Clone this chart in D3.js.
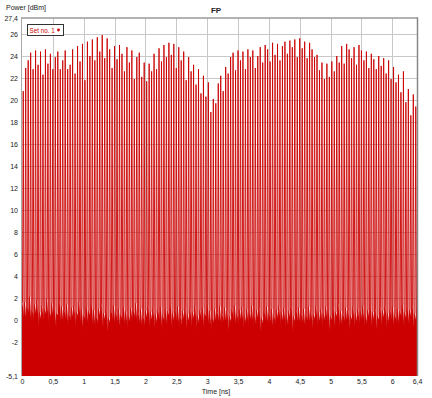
<!DOCTYPE html>
<html><head><meta charset="utf-8">
<script src="https://cdn.jsdelivr.net/npm/d3@7"></script>
<style>
html,body{margin:0;padding:0;background:#fff;}
svg{display:block;}
text{font-family:"Liberation Sans",Arial,sans-serif;}
</style></head>
<body><svg id="c" width="432" height="398"></svg>
<script>
// ---- data ----
const title = "FP";
const yLabel = "Power [dBm]";
const xLabel = "Time [ns]";
const seriesName = "Set no. 1";
const xTicks = [0,0.5,1,1.5,2,2.5,3,3.5,4,4.5,5,5.5,6,6.4];
const yTicks = [27.4,26,24,22,20,18,16,14,12,10,8,6,4,2,0,-2,-5.1];
const pulsePeriod = 0.04; // ns between pulses
const pulseStart = 0.02;
// peak power of each pulse [dBm]
const peaks = [
 20.8,22.9,23.6,24.3,22.8,24.5,23.2,24.4,22.3,24.6,
 23.3,24.2,22.8,23.9,24.4,22.8,23.6,24.5,22.8,23.2,
 24.6,22.4,24.9,23.5,25.1,21.8,25.3,24.0,25.5,23.6,
 25.7,24.4,25.9,23.8,25.6,24.6,22.9,24.9,23.7,25.0,
 24.2,22.6,24.8,23.4,24.5,21.9,23.9,24.3,22.1,23.4,
 21.7,23.3,22.6,24.2,22.8,24.7,23.5,25.0,23.9,25.2,
 24.1,25.1,22.9,24.8,23.6,24.4,21.8,23.9,22.6,23.2,
 21.4,22.8,20.6,22.2,20.3,21.6,18.9,20.1,19.7,21.5,
 22.2,20.8,23.0,22.4,23.9,24.3,22.7,24.5,23.6,24.4,
 22.8,24.6,23.9,24.5,22.9,24.0,24.8,23.4,25.0,24.6,
 23.5,25.2,24.1,25.1,23.6,24.9,25.3,24.2,25.4,24.8,
 25.5,23.9,25.6,24.7,25.3,23.8,25.2,24.6,23.9,24.1,
 22.7,23.4,21.9,23.3,22.1,23.5,22.6,24.0,23.4,24.9,
 23.3,25.1,24.6,23.8,24.8,23.2,25.0,24.5,23.6,24.4,
 22.9,24.2,23.7,22.8,24.0,23.1,23.8,22.4,23.6,21.9,
 23.0,21.6,22.3,20.7,22.6,19.8,21.0,18.6,20.5,19.4
];
// level of the noisy floor between pulses [dBm]
const floors = [
 1.6,1.2,2.1,0.9,1.4,1.8,0.7,1.3,1.0,1.9,
 0.8,1.5,1.1,0.6,1.7,1.2,0.9,1.4,0.5,1.1,
 1.3,0.7,1.6,1.0,0.4,1.2,0.8,1.5,0.9,0.3,
 1.0,1.4,0.6,1.1,0.2,0.9,1.3,0.7,1.0,0.5,
 1.2,0.8,0.4,1.1,0.9,1.5,0.6,1.0,0.3,0.8,
 1.3,0.7,1.1,0.5,0.9,1.2,0.4,1.0,0.8,1.4,
 0.6,0.9,1.2,0.3,0.8,1.1,0.5,1.0,0.7,1.3,
 0.4,0.9,1.1,0.6,1.4,0.8,0.2,1.0,0.7,1.2,
 0.5,1.1,0.8,0.3,1.0,1.3,0.6,0.9,1.2,0.4,
 1.0,0.7,1.3,0.5,0.9,1.1,0.2,0.8,1.2,0.6,
 1.0,0.4,0.9,1.3,0.7,1.1,0.5,0.8,1.2,0.3,
 0.9,1.1,0.6,1.0,0.4,1.2,0.8,0.5,1.3,0.7,
 1.0,0.6,1.2,0.9,0.3,1.1,0.7,1.4,0.8,0.5,
 1.1,0.9,0.4,1.2,0.6,1.0,0.8,1.3,0.5,0.9,
 1.2,0.7,1.0,0.4,1.1,0.8,1.3,0.6,0.9,1.2,
 0.5,1.0,0.8,1.4,0.7,1.1,0.9,1.3,0.6,1.0
];
// notch depth right after each pulse [dBm]
const dips = [
 0.2,-0.3,0.6,-0.5,0.1,0.4,-0.7,0.0,-0.2,0.5,
 -0.4,0.2,-0.1,-0.6,0.3,-0.2,-0.5,0.1,-0.8,-0.1,
 0.0,-0.6,0.3,-0.3,-0.9,-0.1,-0.4,0.2,-0.5,-1.0,
 -0.3,0.1,-0.7,-0.2,-1.1,-0.4,0.0,-0.6,-0.3,-0.8,
 -0.1,-0.5,-0.9,-0.2,-0.4,0.2,-0.7,-0.3,-1.0,-0.5,
 0.0,-0.6,-0.2,-0.8,-0.4,-0.1,-0.9,-0.3,-0.5,0.1,
 -0.7,-0.4,-0.1,-1.0,-0.5,-0.2,-0.8,-0.3,-0.6,0.0,
 -0.9,-0.4,-0.2,-0.7,0.1,-0.5,-1.2,-0.3,-0.6,-0.1,
 -0.8,-0.2,-0.5,-1.0,-0.3,0.0,-0.7,-0.4,-0.1,-0.9,
 -0.3,-0.6,0.0,-0.8,-0.4,-0.2,-1.1,-0.5,-0.1,-0.7,
 -0.3,-0.9,-0.4,0.0,-0.6,-0.2,-0.8,-0.5,-0.1,-1.0,
 -0.4,-0.2,-0.7,-0.3,-0.9,-0.1,-0.5,-0.8,0.0,-0.6,
 -0.3,-0.7,-0.1,-0.4,-1.0,-0.2,-0.6,0.1,-0.5,-0.8,
 -0.2,-0.4,-0.9,-0.1,-0.7,-0.3,-0.5,0.0,-0.8,-0.4,
 -0.1,-0.6,-0.3,-0.9,-0.2,-0.5,0.0,-0.7,-0.4,-0.1,
 -0.8,-0.3,-0.5,0.1,-0.6,-0.2,-0.4,0.0,-0.7,-0.3
];

// ---- layout ----
const svg = d3.select("#c");
const L = 22, R = 417, T = 18.6, B = 376;
const x = d3.scaleLinear().domain([0, 6.4]).range([L, R]);
const y = d3.scaleLinear().domain([-5.1, 27.4]).range([B, T]);
const fmt = v => String(v).replace(".", ",");
const red = "#cc0000";
const FONT = '"Liberation Sans", Arial, sans-serif';

svg.append("rect").attr("width",432).attr("height",398).attr("fill","#fff");

// grid
const grid = svg.append("g");
grid.selectAll("line.h").data(yTicks.filter(v => v > -5.1 && v < 27.4)).join("line")
  .attr("x1", L).attr("x2", R).attr("y1", d => Math.round(y(d))+0.5).attr("y2", d => Math.round(y(d))+0.5)
  .attr("stroke", "#c8c8c8").attr("stroke-width", 1);
grid.selectAll("line.v").data(xTicks.filter(v => v > 0 && v < 6.4)).join("line")
  .attr("y1", T).attr("y2", B).attr("x1", d => Math.round(x(d))+0.5).attr("x2", d => Math.round(x(d))+0.5)
  .attr("stroke", "#c8c8c8").attr("stroke-width", 1);

// floor (noisy low level) points and full waveform points, built from the arrays
const floorPts = [[0, floors[0]]];
const wave = [[0, floors[0]]];
peaks.forEach((p, i) => {
  const t = pulseStart + i * pulsePeriod;
  const prevFloor = i === 0 ? floors[0] : floors[i-1];
  floorPts.push([t - 0.012, prevFloor], [t + 0.012, dips[i]], [t + 0.022, floors[i]]);
  wave.push([t - 0.012, prevFloor], [t, p], [t + 0.012, dips[i]], [t + 0.022, floors[i]]);
});
floorPts.push([6.4, floors[floors.length-1]]);
wave.push([6.4, floors[floors.length-1]]);

svg.append("clipPath").attr("id","clip").append("rect")
  .attr("x", L).attr("y", T).attr("width", R-L).attr("height", B-T);

const area = d3.area().x(d => x(d[0])).y0(y(-5.1)).y1(d => y(d[1]));
const line = d3.line().x(d => x(d[0])).y(d => y(d[1]));
const g = svg.append("g").attr("clip-path","url(#clip)");
g.append("path").datum(floorPts).attr("d", area).attr("fill", red);
g.append("path").datum(wave).attr("d", line).attr("fill","none").attr("stroke", red).attr("stroke-width", 0.9);

// frame
svg.append("line").attr("x1",L-1).attr("x2",R+1).attr("y1",T-0.5).attr("y2",T-0.5).attr("stroke","#999").attr("stroke-width",1.5);
svg.append("line").attr("x1",R+0.5).attr("x2",R+0.5).attr("y1",T-1).attr("y2",B).attr("stroke","#888").attr("stroke-width",1.5);
svg.append("line").attr("x1",L-0.5).attr("x2",L-0.5).attr("y1",T-1).attr("y2",B).attr("stroke","#aaa").attr("stroke-width",1);

// axes
const yAxis = d3.axisLeft(y).tickValues(yTicks).tickFormat(fmt).tickSize(0).tickPadding(4);
const ya = svg.append("g").attr("transform", `translate(${L},0)`).call(yAxis);
ya.select(".domain").remove();
ya.selectAll("text").attr("font-size", 7).attr("fill", "#222").attr("font-family", FONT);
const xAxis = d3.axisBottom(x).tickValues(xTicks).tickFormat(fmt).tickSize(0).tickPadding(3);
const xa = svg.append("g").attr("transform", `translate(0,${B})`).call(xAxis);
xa.select(".domain").remove();
xa.selectAll("text").attr("font-size", 7).attr("fill", "#222").attr("font-family", FONT);

// titles
svg.append("text").attr("x", 216).attr("y", 13).attr("text-anchor","middle")
  .attr("font-size", 8).attr("font-weight","bold").attr("fill","#222").text(title);
svg.append("text").attr("x", 6).attr("y", 10).attr("font-size", 7).attr("fill","#222").text(yLabel);
svg.append("text").attr("x", 216).attr("y", 394).attr("text-anchor","middle").attr("font-size", 7).attr("fill","#222").text(xLabel);

// legend
const lg = svg.append("g");
lg.append("rect").attr("x", 27.5).attr("y", 24.5).attr("width", 36).attr("height", 11)
  .attr("fill","#fff").attr("stroke","#333").attr("stroke-width",1);
lg.append("text").attr("x", 29.5).attr("y", 32.5).attr("font-size", 6.3).attr("fill", red).text(seriesName);
lg.append("circle").attr("cx", 58.5).attr("cy", 30).attr("r", 1.4).attr("fill", red);
</script></body></html>
